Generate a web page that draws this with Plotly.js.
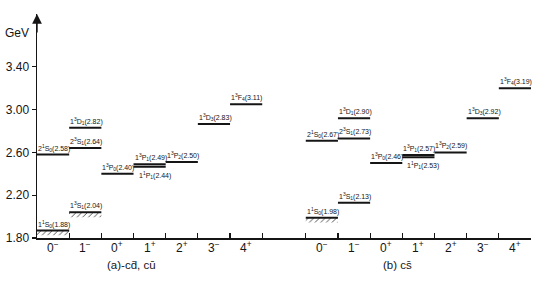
<!DOCTYPE html>
<html>
<head>
<meta charset="utf-8">
<script src="https://cdn.plot.ly/plotly-3.0.1.min.js"></script>
<style>html,body{margin:0;padding:0;background:#fff;}#chart{width:545px;height:281px;}</style>
</head>
<body>
<div id="chart"></div>
<script>
// ---- data ----
const categories = ['0<sup>−</sup>', '1<sup>−</sup>', '0<sup>+</sup>', '1<sup>+</sup>', '2<sup>+</sup>', '3<sup>−</sup>', '4<sup>+</sup>'];
const states = ['1<sup>1</sup>S<sub>0</sub>', '2<sup>1</sup>S<sub>0</sub>', '1<sup>3</sup>S<sub>1</sub>', '2<sup>3</sup>S<sub>1</sub>',
                '1<sup>3</sup>D<sub>1</sub>', '1<sup>3</sup>P<sub>0</sub>', '1<sup>3</sup>P<sub>1</sub>', '1<sup>1</sup>P<sub>1</sub>',
                '1<sup>3</sup>P<sub>2</sub>', '1<sup>3</sup>D<sub>3</sub>', '1<sup>3</sup>F<sub>4</sub>'];
const stateCategory = [0, 0, 1, 1, 1, 2, 3, 3, 4, 5, 6];
// (a) c d-bar, c u-bar : quoted masses and drawn level heights (GeV)
const massA  = [1.88, 2.58, 2.04, 2.64, 2.82, 2.40, 2.49, 2.44, 2.50, 2.83, 3.11];
const levelA = [1.87, 2.58, 2.04, 2.64, 2.83, 2.40, 2.49, 2.465, 2.51, 2.865, 3.05];
const hatchA = [1, 0, 1, 0, 0, 0, 0, 0, 0, 0, 0];
// (b) c s-bar
const massB  = [1.98, 2.67, 2.13, 2.73, 2.90, 2.46, 2.57, 2.53, 2.59, 2.92, 3.19];
const levelB = [1.99, 2.71, 2.13, 2.73, 2.92, 2.50, 2.575, 2.555, 2.60, 2.92, 3.20];
const hatchB = [1, 0, 0, 0, 0, 0, 0, 0, 0, 0, 0];
const labelBelow = [0, 0, 0, 0, 0, 0, 0, 1, 0, 0, 0];
const yTicks = [1.80, 2.20, 2.60, 3.00, 3.40];
const yTickText = ['1.80', '2.20', '2.60', '3.00', '3.40'];
const panelTitles = ['(a)-cd\u0304, cu\u0304', '(b) cs\u0304'];

// ---- layout helpers ----
const panelOffset = [0, 8.354];
const panelTitleX = [2.95, 11.2];
const FONT = 'Liberation Sans, Arial, sans-serif';
const INK = '#151515';

const traces = [];
const annotations = [];
const panels = [
  {mass: massA, level: levelA, hatch: hatchA},
  {mass: massB, level: levelB, hatch: hatchB}
];

panels.forEach((p, pi) => {
  const off = panelOffset[pi];
  const lx = [], ly = [];
  const hx = [], hb = [], hy = [];
  states.forEach((s, i) => {
    const x0 = off + stateCategory[i];
    lx.push(x0, x0 + 1, null);
    ly.push(p.level[i], p.level[i], null);
    if (p.hatch[i]) {
      hx.push(x0 + 0.5);
      hb.push(p.level[i] - 0.045);
      hy.push(0.045);
    }
    annotations.push({
      x: x0, y: p.level[i], xref: 'x', yref: 'y',
      xanchor: 'left', yanchor: labelBelow[i] ? 'top' : 'bottom',
      xshift: labelBelow[i] ? 3 : -1, yshift: labelBelow[i] ? -2 : 0,
      text: s + '(' + p.mass[i].toFixed(2) + ')',
      showarrow: false,
      font: {family: FONT, size: 7, color: INK}
    });
  });
  traces.push({
    type: 'scatter', mode: 'lines', x: lx, y: ly,
    line: {color: INK, width: 2}, hoverinfo: 'skip', showlegend: false, connectgaps: false
  });
  if (hx.length) {
    traces.push({
      type: 'bar', x: hx, y: hy, base: hb, width: 1,
      marker: {color: 'rgba(0,0,0,0)', line: {width: 0},
               pattern: {shape: '/', size: 4, solidity: 0.18, fgcolor: INK, bgcolor: 'rgba(0,0,0,0)'}},
      hoverinfo: 'skip', showlegend: false
    });
  }
  categories.forEach((c, i) => {
    annotations.push({
      x: off + i + 0.5, y: 0, xref: 'x', yref: 'paper',
      xanchor: 'center', yanchor: 'middle', yshift: -9,
      text: c, showarrow: false,
      font: {family: FONT, size: 12, color: INK}
    });
  });
  annotations.push({
    x: panelTitleX[pi], y: 0, xref: 'x', yref: 'paper',
    xanchor: 'center', yanchor: 'middle', yshift: -27,
    text: panelTitles[pi], showarrow: false,
    font: {family: FONT, size: 11.5, color: INK}
  });
});

const xTicks = [];
panelOffset.forEach(off => { for (let k = 0; k <= categories.length; k++) xTicks.push(off + k); });

// axis arrow and unit
annotations.push({
  x: 0, y: 1, xref: 'paper', yref: 'paper', ax: 0, ay: 20,
  showarrow: true, arrowhead: 2, arrowsize: 1.4, arrowwidth: 1.4, arrowcolor: INK, text: ''
});
annotations.push({
  x: 0, y: 0.915, xref: 'paper', yref: 'paper', xanchor: 'right', yanchor: 'middle', xshift: -6,
  text: 'GeV', showarrow: false, font: {family: FONT, size: 12, color: INK}
});

const layout = {
  width: 545, height: 281,
  margin: {l: 37, r: 14, t: 14, b: 43, pad: 0},
  paper_bgcolor: '#fff', plot_bgcolor: '#fff',
  showlegend: false, hovermode: false, barmode: 'overlay',
  xaxis: {
    range: [0, 15.354], showline: true, linecolor: INK, linewidth: 1.5,
    ticks: 'inside', ticklen: 5, tickwidth: 1.2, tickcolor: INK,
    tickmode: 'array', tickvals: xTicks, showticklabels: false,
    showgrid: false, zeroline: false, fixedrange: true
  },
  yaxis: {
    range: [1.8, 3.8935], showline: true, linecolor: INK, linewidth: 1.5,
    ticks: 'outside', ticklen: 4, tickwidth: 1.2, tickcolor: INK,
    tickmode: 'array', tickvals: yTicks, ticktext: yTickText,
    tickfont: {family: FONT, size: 12, color: INK},
    showgrid: false, zeroline: false, fixedrange: true
  },
  annotations: annotations
};

Plotly.newPlot('chart', traces, layout, {staticPlot: true, displayModeBar: false});
</script>
</body>
</html>
